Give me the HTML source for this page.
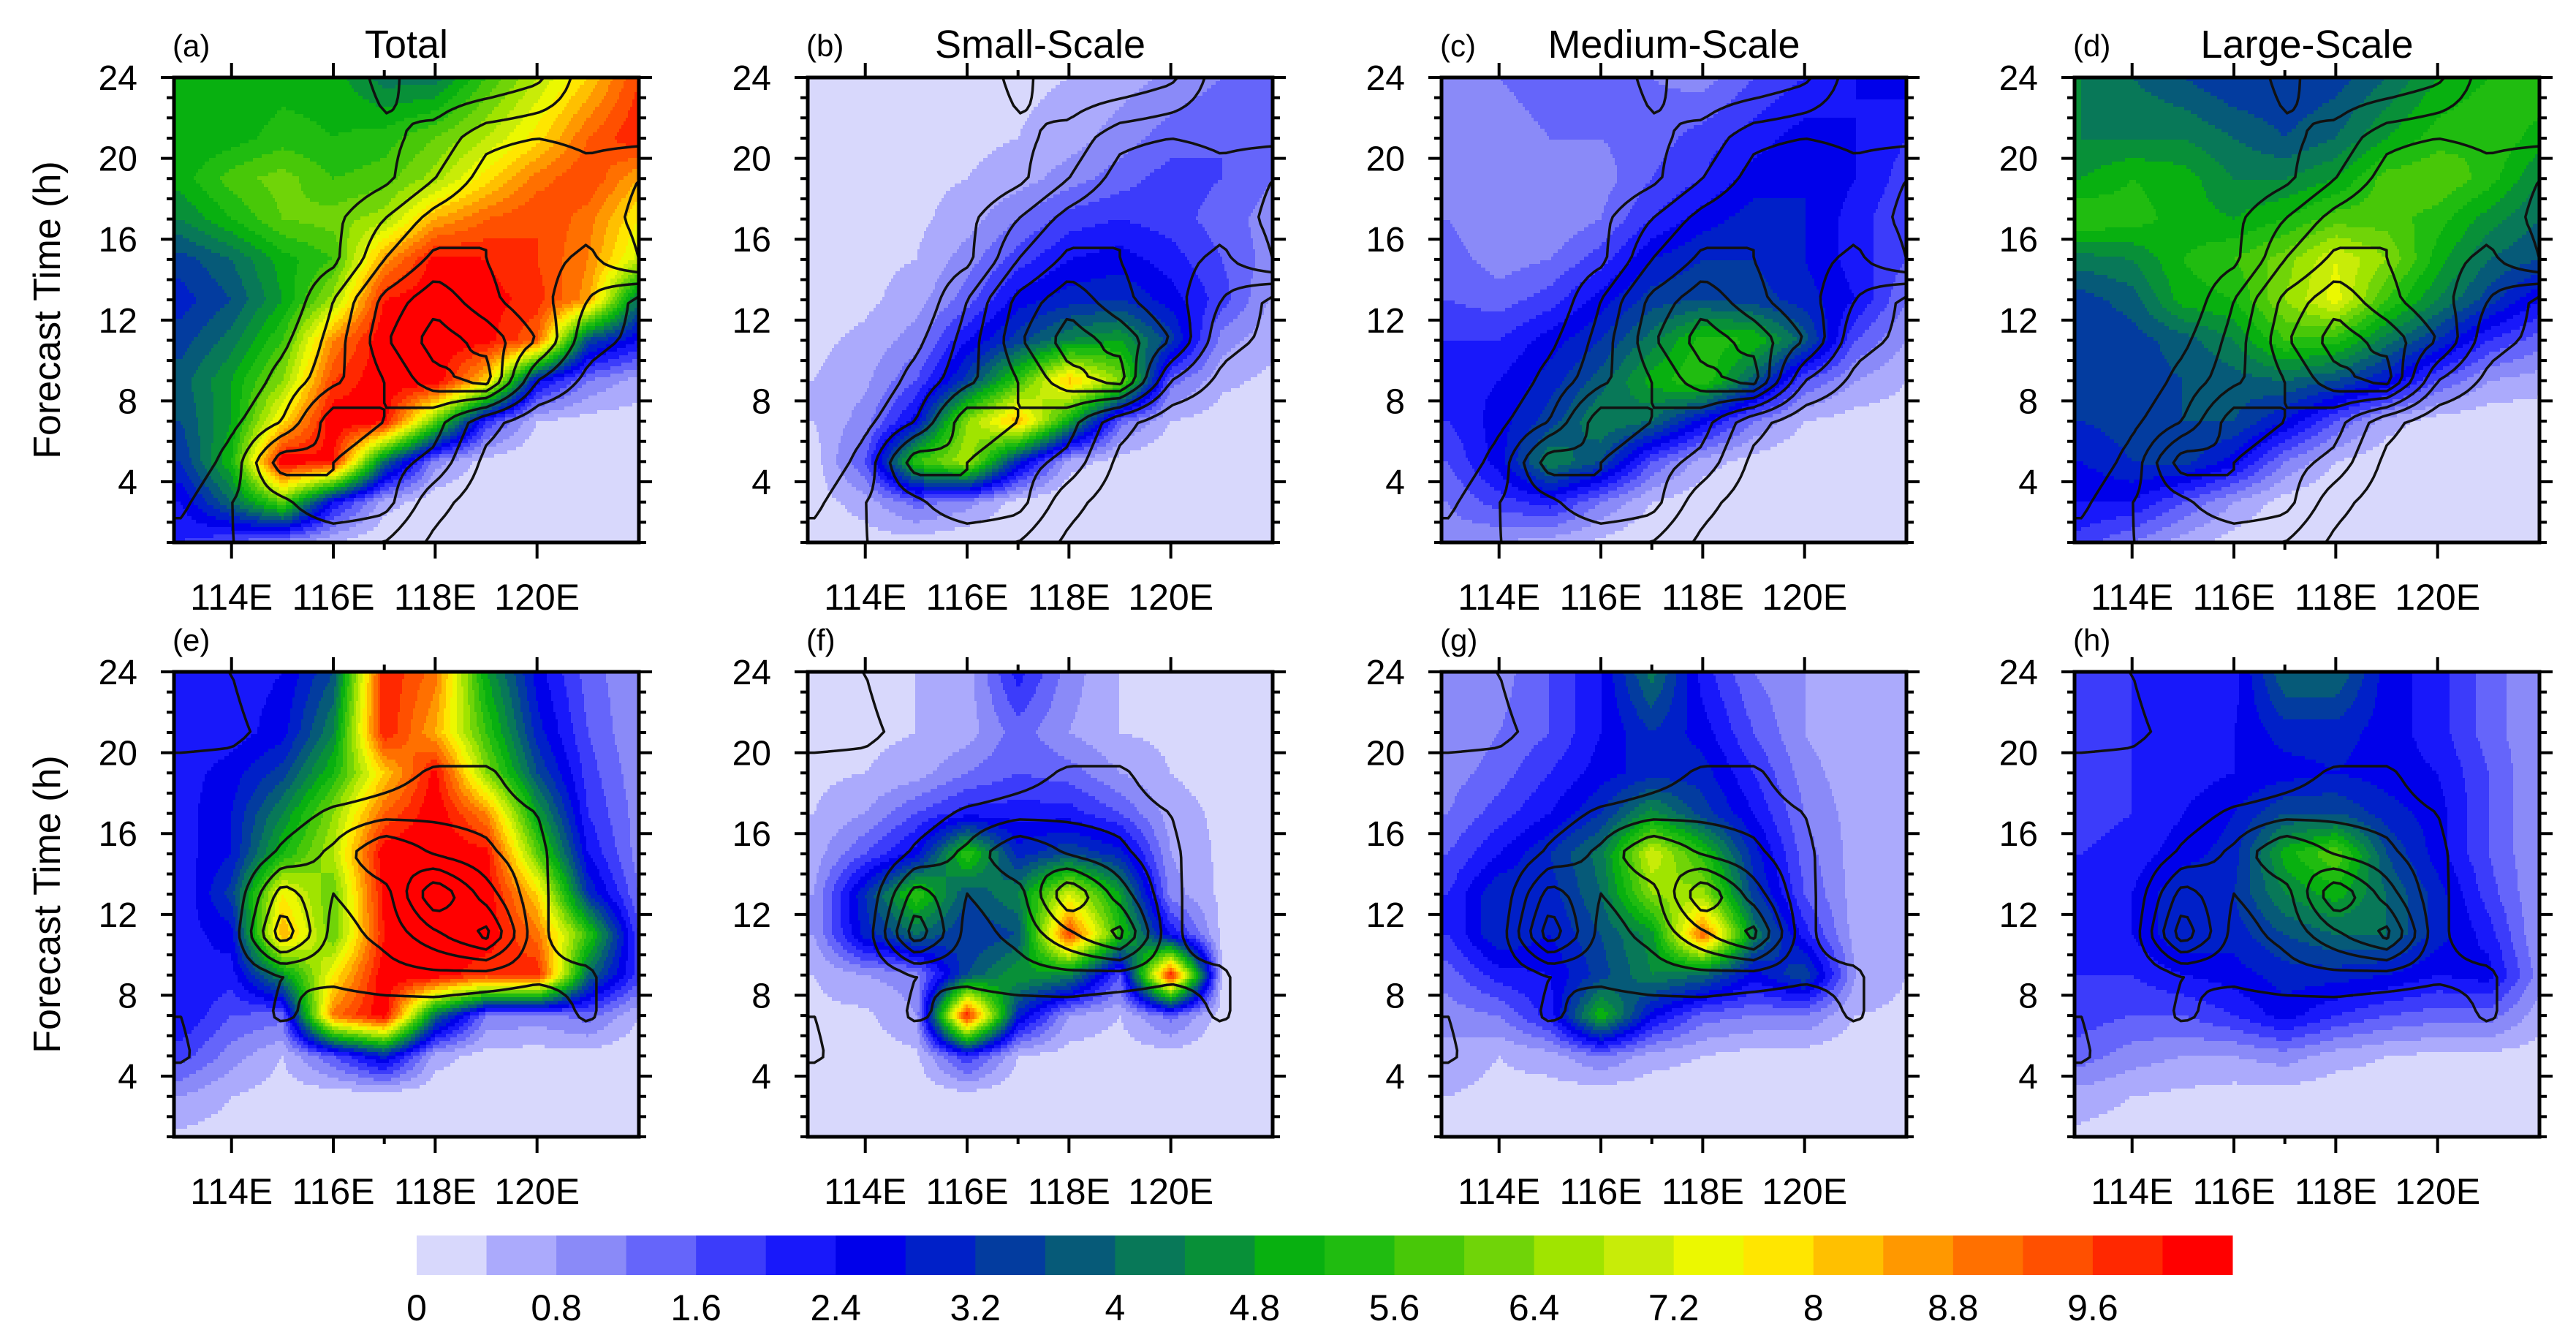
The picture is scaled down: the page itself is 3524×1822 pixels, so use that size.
<!DOCTYPE html>
<html><head><meta charset="utf-8">
<style>
html,body{margin:0;padding:0;background:#fff;}
svg{display:block;font-family:"Liberation Sans",Arial,sans-serif;}
</style></head>
<body>
<svg id="fig" xmlns="http://www.w3.org/2000/svg" width="3524" height="1822" viewBox="0 0 3524 1822">
<rect x="0" y="0" width="3524" height="1822" fill="#fff"/>
</svg>
<script>
// ---- data ----
const lons=[113,114,115,116,117,118,119,120,121,122];
const times=[24,21,19,17,15,13,11,9,7,5,3,1];
const levelStep=0.4;
const colorbarLabels=["0","0.8","1.6","2.4","3.2","4","4.8","5.6","6.4","7.2","8","8.8","9.6"];
const xTickLabels=["114E","116E","118E","120E"];
const xTickValues=[114,116,118,120];
const yTickValues=[4,8,12,16,20,24];
const palette=["#d8d8fc","#abaafc","#8a8af8","#6565fa","#3c3cfa","#1818fa","#0000ea","#0020c8","#033c9f","#065a78","#087858","#089038","#08b010","#20bc10","#48c808","#70d408","#a0e400","#c8ec08","#ecf800","#ffe600","#ffc000","#ff9800","#ff7000","#ff5000","#ff2800","#ff0000"];

const fieldA=[
[5.0,4.8,5.0,5.0,4.2,4.2,5.6,6.8,8,9.6],
[4.8,5.0,5.4,5.2,5.4,6.0,6.8,7.8,9.2,10],
[5.0,5.8,6.2,5.6,5.8,6.6,7.8,9.0,9.6,8.4],
[4.4,5.2,6.0,6.2,6.6,8.4,9.2,9.6,9.0,7.6],
[3.4,4.0,5.0,5.6,8.6,10.2,10,9.6,8.8,7],
[3.0,3.6,4.8,6.6,10,10.4,10.2,9.8,8.6,4],
[3.4,4.2,5.6,8.8,10.4,10.4,10.2,9.2,3.5,2.4],
[3.8,4.8,6.4,9.6,10.4,10.4,8,2.6,1.2,0.6],
[3.6,4.8,7.8,10.4,10.2,6,2,0.4,0.2,0.2],
[3.2,5.2,10.4,10,4,1,0.2,0,0,0],
[2.4,4.0,6,2.4,0.6,0.1,0,0,0,0],
[2.0,1.6,1.0,0.4,0,0,0,0,0,0]];
const fieldB=[
[0.2,0.2,0.2,0.3,0.3,0.4,0.6,0.9,1.2,1.4],
[0.2,0.2,0.2,0.3,0.4,0.6,1.0,1.4,1.6,1.4],
[0.2,0.2,0.3,0.4,0.6,1.0,1.4,1.8,1.6,1.2],
[0.2,0.2,0.3,0.6,1.2,1.8,2.0,1.8,1.4,1.0],
[0.2,0.3,0.4,1.0,1.8,2.4,2.6,2.2,1.6,1.0],
[0.2,0.3,0.6,1.4,2.6,3.0,3.2,2.6,1.8,0.7],
[0.3,0.5,1.0,2.4,3.4,4.4,4.8,3.4,1.0,0.5],
[0.4,0.7,1.6,3.4,5.6,8.2,6.4,1.4,0.5,0.3],
[0.4,1.0,2.6,6.4,8.4,5.0,1.4,0.4,0.2,0.2],
[0.2,1.6,5.6,6.8,3.0,0.6,0.2,0,0,0],
[0.2,0.6,1.4,1.0,0.2,0,0,0,0,0],
[0.1,0.2,0.2,0,0,0,0,0,0,0]];
const fieldC=[
[1.0,1.2,1.4,1.6,1.2,1.0,1.6,2.0,2.4,2.6],
[0.8,1.0,1.2,1.2,1.4,1.8,2.2,2.6,2.4,2.0],
[1.0,1.2,0.8,1.0,1.6,2.0,2.6,2.8,2.4,1.8],
[1.2,0.8,0.8,1.2,2.0,2.6,3.0,2.8,2.2,1.6],
[1.4,1.0,1.2,1.8,2.8,3.2,3.2,2.8,2.2,1.6],
[1.6,1.4,1.8,2.6,3.4,3.6,3.4,3.0,2.4,1.2],
[2.0,2.0,2.6,3.2,4.2,5.4,5.2,3.8,1.6,0.8],
[2.2,2.4,3.0,3.8,5.0,5.6,3.8,1.6,0.8,0.4],
[2.0,2.6,3.4,4.4,4.0,2.6,1.2,0.4,0.2,0.2],
[1.6,2.6,4.4,3.6,1.6,0.6,0.2,0,0,0],
[1.2,1.8,2.2,1.2,0.4,0.1,0,0,0,0],
[1.0,0.8,0.6,0.3,0,0,0,0,0,0]];
const fieldD=[
[4.4,4.0,3.6,3.2,3.2,3.4,4.0,4.8,5.2,5.6],
[4.4,4.4,4.4,4.0,3.6,4.0,4.8,5.4,5.6,5.0],
[4.8,5.2,5.0,4.4,4.4,4.8,5.8,6.0,5.4,4.4],
[5.6,5.4,5.0,4.8,5.2,5.8,5.8,5.4,4.6,4.0],
[4.2,4.4,5.2,5.6,6.2,7.2,6.4,5.0,4.0,3.6],
[3.4,3.8,5.0,5.2,6.4,7.4,5.6,4.4,3.4,2.4],
[3.2,3.4,3.8,4.4,5.6,5.4,4.2,3.2,2.0,1.4],
[3.2,3.4,3.6,3.8,4.0,3.6,2.8,1.6,0.8,0.6],
[3.2,3.4,3.6,3.6,2.8,1.6,0.6,0.2,0.1,0.1],
[2.8,3.2,3.4,2.6,1.2,0.4,0.1,0,0,0],
[2.4,2.4,1.6,0.8,0.2,0,0,0,0,0],
[1.8,1.2,0.6,0.2,0,0,0,0,0,0]];
const fieldE=[
[2.2,2.2,2.4,3.6,10,9,4.8,2.6,1.4,0.8],
[2.0,2.2,2.6,4.4,10,8.4,5.6,3.0,1.6,0.8],
[2.2,2.6,3.4,5.2,8.0,10.2,6.4,3.6,1.8,0.9],
[2.2,2.8,4.4,6.4,9.2,10.4,8.8,4.8,2.0,1.0],
[2.2,2.8,5.2,6.8,10.4,10.4,10.2,6.0,2.4,1.0],
[2.0,3.4,7.6,6.0,10.2,10.4,10.4,8.0,3.2,1.2],
[2.2,2.6,8.4,6.0,10,10.4,10.4,9.0,5.6,1.6],
[2.4,2.2,4.6,7.6,10.4,10.4,9.6,10,4,1.8],
[2.4,1.6,1.4,9,10.4,4,1.2,1,1.4,0.4],
[1.8,1.0,0.4,1.6,3,0.6,0.2,0.2,0.2,0.1],
[0.8,0.4,0.2,0.1,0.1,0.1,0.1,0,0,0],
[0.3,0.2,0.1,0,0,0,0,0,0,0]];
const fieldF=[
[0.4,0.4,0.4,0.6,2.2,1.0,0.4,0.3,0.2,0.2],
[0.3,0.3,0.4,0.6,1.4,0.8,0.4,0.3,0.2,0.2],
[0.3,0.4,0.6,1.2,1.6,1.4,0.8,0.4,0.2,0.2],
[0.4,0.8,1.6,2.2,2.2,2.2,1.6,0.6,0.3,0.2],
[0.6,1.6,2.6,5.6,3.0,3.6,3.0,0.8,0.3,0.2],
[0.8,3.2,5.6,3.6,4.4,7.2,4.8,1.0,0.3,0.2],
[0.8,3.0,4.0,3.2,3.6,9.6,5.4,2.4,0.3,0.2],
[0.4,0.8,1.0,3.6,4.8,4.4,1.6,10,0.4,0.2],
[0.3,0.3,0.8,10,3.0,0.8,0.4,1.4,0.2,0.1],
[0.2,0.2,0.3,2.0,0.4,0.2,0.2,0.2,0.1,0.1],
[0.1,0.1,0.1,0.2,0.1,0.1,0.1,0,0,0],
[0.1,0.1,0.1,0,0,0,0,0,0,0]];
const fieldG=[
[0.8,1.0,1.6,2.4,4.2,2.2,1.2,0.8,0.4,0.4],
[0.8,1.2,1.6,2.4,3.2,2.6,1.6,0.8,0.4,0.4],
[1.0,1.4,2.0,2.6,3.0,3.0,2.0,1.0,0.5,0.4],
[1.2,1.8,2.4,3.2,4.6,3.4,2.4,1.2,0.6,0.4],
[1.6,2.4,3.2,4.2,7.2,5.4,3.0,1.4,0.6,0.4],
[2.0,3.2,3.0,4.0,6.4,6.6,3.4,1.6,0.6,0.4],
[2.0,3.2,2.8,3.6,4.6,9.2,4.4,2.2,0.6,0.4],
[1.4,2.2,2.4,3.4,4.4,4.0,2.6,3.6,0.8,0.4],
[1.0,1.2,2.2,5.2,2.6,1.4,1.2,1.2,0.4,0.3],
[0.6,0.4,0.6,1.2,0.6,0.4,0.2,0.2,0.1,0.1],
[0.4,0.3,0.2,0.1,0.1,0.1,0.1,0,0,0],
[0.2,0.2,0.1,0,0,0,0,0,0,0]];
const fieldH=[
[1.8,2.0,2.0,2.2,4.0,4.0,2.6,2.2,1.4,0.8],
[1.6,2.0,2.2,2.4,3.0,3.0,2.6,2.2,1.4,0.8],
[1.8,2.0,2.2,2.4,2.6,2.8,2.6,2.4,1.6,0.8],
[1.8,2.0,2.4,2.8,3.6,3.6,3.0,2.6,1.6,0.8],
[2.0,2.2,2.6,3.0,5.0,6.0,3.6,2.6,1.6,0.8],
[2.0,2.4,3.2,3.2,4.4,5.0,4.0,3.0,1.8,0.8],
[2.0,2.4,3.2,3.0,3.6,4.0,4.0,3.0,2.2,0.8],
[2.0,2.0,2.4,2.6,3.0,3.0,2.8,2.4,2.6,1.0],
[1.8,1.6,1.6,2.0,2.6,2.0,1.6,1.4,1.4,0.6],
[1.4,1.0,0.8,0.8,1.0,0.6,0.4,0.3,0.3,0.2],
[0.6,0.4,0.3,0.2,0.2,0.1,0.1,0,0,0],
[0.3,0.2,0.1,0,0,0,0,0,0,0]];
const obsTop=[
[0,0,0,0,1,0,0,0.5,2,2],
[0,0,0,0,0.5,1,2,2.2,2,2],
[0,0,0,0,0.5,1.5,2.5,3,2.5,3],
[0,0,0,0.5,1.5,2.5,3,3,2.5,3.2],
[0,0,0,0.5,2.2,3.2,3,2.5,2,3],
[0,0,0,1.5,3.2,4,3.2,2.5,1.5,0.5],
[0,0,0.5,1.8,3.5,4.5,4,3,1,0.5],
[0,0,1,2,3,4,4.5,1.5,0.5,0],
[0,0.5,1.5,3.5,3,2.5,1,0.2,0,0],
[0,1,3.5,3,2.5,2,0.5,0,0,0],
[0.5,1.5,2,3,2.5,1,0.2,0,0,0],
[1,1.5,1.5,1.5,1.5,0.5,0,0,0,0]];
const obsBottom=[
[1.2,1,0,0,0,0,0,0,0,0],
[1.5,1.3,0.5,0,0,0,0,0,0,0],
[0.5,0.5,0,0,0.5,1.2,1.2,0.3,0,0],
[0,0,0.5,1.2,1.5,1.6,1.5,1,0.2,0],
[0,0,1.2,2,3.5,2.5,2,1.2,0.2,0],
[0,0.3,3,1.8,2.2,5,3,1.2,0.3,0],
[0,0.5,4,1.5,2,3.2,4.5,1.2,0.3,0],
[0,0.3,1,1.2,1.5,1.6,1.5,1.2,1.2,0],
[1,0.2,1.2,0.5,0.5,0.5,0.3,0.3,1.2,0],
[1.2,0.2,0,0,0,0,0,0,0,0],
[0,0,0,0,0,0,0,0,0,0],
[0,0,0,0,0,0,0,0,0,0]];
const obsTopLevels=[0.7,1.5,2.2,3,3.6,4.2];
const obsBottomLevels=[1,1.8,2.6,3.4,4.2];

// ---- layout ----
const NS="http://www.w3.org/2000/svg";
const svg=document.getElementById('fig');
const PW=636,PH=636;
const LON0=112.87,LON1=122.0,T0=1,T1=24;
const panels=[
 {x:238,y:106,f:fieldA,o:obsTop,lv:obsTopLevels,lab:"(a)",title:"Total",ytitle:true,id:"a"},
 {x:1105,y:106,f:fieldB,o:obsTop,lv:obsTopLevels,lab:"(b)",title:"Small-Scale",id:"b"},
 {x:1972,y:106,f:fieldC,o:obsTop,lv:obsTopLevels,lab:"(c)",title:"Medium-Scale",id:"c"},
 {x:2838,y:106,f:fieldD,o:obsTop,lv:obsTopLevels,lab:"(d)",title:"Large-Scale",id:"d"},
 {x:238,y:919,f:fieldE,o:obsBottom,lv:obsBottomLevels,lab:"(e)",title:"",ytitle:true,id:"e"},
 {x:1105,y:919,f:fieldF,o:obsBottom,lv:obsBottomLevels,lab:"(f)",title:"",id:"f"},
 {x:1972,y:919,f:fieldG,o:obsBottom,lv:obsBottomLevels,lab:"(g)",title:"",id:"g"},
 {x:2838,y:919,f:fieldH,o:obsBottom,lv:obsBottomLevels,lab:"(h)",title:"",id:"h"}];

function mk(tag,attrs,parent){const e=document.createElementNS(NS,tag);for(const k in attrs)e.setAttribute(k,attrs[k]);(parent||svg).appendChild(e);return e;}
function sample(grid,lon,t){
  let L=Math.max(lons[0],Math.min(lons[lons.length-1],lon));
  let i=0;while(i<lons.length-2&&L>lons[i+1])i++;
  const fx=(L-lons[i])/(lons[i+1]-lons[i]);
  let T=Math.max(times[times.length-1],Math.min(times[0],t));
  let j=0;while(j<times.length-2&&T<times[j+1])j++;
  const fy=(times[j]-T)/(times[j]-times[j+1]);
  const a=grid[j][i],b=grid[j][i+1],c=grid[j+1][i],d=grid[j+1][i+1];
  return (a*(1-fx)+b*fx)*(1-fy)+(c*(1-fx)+d*fx)*fy;
}
function levelOf(v){return Math.max(0,Math.min(palette.length-1,Math.floor(v/levelStep)));}

panels.forEach(p=>{
  const xs=lon=>p.x+(lon-LON0)/(LON1-LON0)*PW;
  const ys=t=>p.y+(T1-t)/(T1-T0)*PH;
  const g=mk('g',{},svg);
  
  
  const cp=mk('clipPath',{id:'clip-'+p.id},g);
  mk('rect',{x:p.x,y:p.y,width:PW,height:PH},cp);
  const fg=mk('g',{'clip-path':'url(#clip-'+p.id+')'},g);
  
  
  const cw=3,ch=5;
  for(let yy=0;yy<PH;yy+=ch){
    const t=T1-(yy+ch/2)/PH*(T1-T0);
    let runStart=0,runLev=-1;
    for(let xx=0;xx<=PW;xx+=cw){
      let lev=-2;
      if(xx<PW){const lon=LON0+(xx+cw/2)/PW*(LON1-LON0);lev=levelOf(sample(p.f,lon,t));}
      if(lev!==runLev){
        if(runLev>=0){
          const r=mk('rect',{x:p.x+runStart,y:p.y+yy,width:xx-runStart+0.6,height:ch+0.6,fill:palette[runLev]},fg);
          
          
        }
        runStart=xx;runLev=lev;
      }
    }
  }
  const N=70,M=70;
  const vals=[];
  for(let r=0;r<=M;r++){vals.push([]);for(let c=0;c<=N;c++){
    vals[r].push(sample(p.o,LON0+c/N*(LON1-LON0),T1-r/M*(T1-T0)));}}
  let d="";
  p.lv.forEach(L=>{
    for(let r=0;r<M;r++)for(let c=0;c<N;c++){
      const v0=vals[r][c],v1=vals[r][c+1],v2=vals[r+1][c+1],v3=vals[r+1][c];
      const X=cc=>p.x+cc/N*PW, Y=rr=>p.y+rr/M*PH;
      const pts=[];
      if((v0>=L)!==(v1>=L)){const f=(L-v0)/(v1-v0);pts.push([X(c+f),Y(r)]);}
      if((v1>=L)!==(v2>=L)){const f=(L-v1)/(v2-v1);pts.push([X(c+1),Y(r+f)]);}
      if((v3>=L)!==(v2>=L)){const f=(L-v3)/(v2-v3);pts.push([X(c+f),Y(r+1)]);}
      if((v0>=L)!==(v3>=L)){const f=(L-v0)/(v3-v0);pts.push([X(c),Y(r+f)]);}
      for(let k=0;k+1<pts.length;k+=2)d+="M"+pts[k][0].toFixed(1)+" "+pts[k][1].toFixed(1)+"L"+pts[k+1][0].toFixed(1)+" "+pts[k+1][1].toFixed(1);
    }
  });
  const cl=mk('path',{d:d,fill:'none',stroke:'#111',"stroke-width":3.5,"stroke-linecap":"round"},fg);
  
  
  const fr=mk('rect',{x:p.x,y:p.y,width:PW,height:PH,fill:'none',stroke:'#000',"stroke-width":5},g);
  
  
  let td="";
  for(let t=1;t<=24;t++){
    const y=ys(t);const len=(t%4===0)?18:10;
    td+="M"+(p.x-len)+" "+y+"H"+p.x+"M"+(p.x+PW)+" "+y+"H"+(p.x+PW+len);
  }
  xTickValues.forEach(v=>{const x=xs(v);td+="M"+x+" "+(p.y-20)+"V"+p.y+"M"+x+" "+(p.y+PH)+"V"+(p.y+PH+22);});
  [117].forEach(v=>{const x=xs(v);td+="M"+x+" "+(p.y-10)+"V"+p.y+"M"+x+" "+(p.y+PH)+"V"+(p.y+PH+10);});
  const tk=mk('path',{d:td,stroke:'#000',"stroke-width":4,fill:'none'},g);
  
  
  yTickValues.forEach(v=>{
    const tx=mk('text',{x:p.x-50,y:ys(v)+17,"font-size":48,"text-anchor":"end",fill:'#000'},g);
    tx.textContent=String(v);
    
    
  });
  xTickValues.forEach((v,i)=>{
    const tx=mk('text',{x:xs(v),y:p.y+PH+92,"font-size":50,"text-anchor":"middle",fill:'#000'},g);
    tx.textContent=xTickLabels[i];
    
    
  });
  const lb=mk('text',{x:p.x-2,y:p.y-29,"font-size":42,fill:'#000'},g);
  lb.textContent=p.lab;
  
  
  if(p.title){
    const tt=mk('text',{x:p.x+PW/2,y:p.y-27,"font-size":54,"text-anchor":"middle",fill:'#000'},g);
    tt.textContent=p.title;
    
    
  }
  if(p.ytitle){
    const cy=p.y+PH/2;
    const yt=mk('text',{x:0,y:0,transform:"translate(82,"+cy+") rotate(-90)","font-size":52,"text-anchor":"middle",fill:'#000'},g);
    yt.textContent="Forecast Time (h)";
    
    
  }
});

const cb=mk('g',{},svg);


const CBX=570,CBW=2484,CBY=1690,CBH=54;
const bw=CBW/palette.length;
palette.forEach((c,i)=>{
  const r=mk('rect',{x:CBX+i*bw,y:CBY,width:bw+0.5,height:CBH,fill:c},cb);
  
  
});
colorbarLabels.forEach((s,i)=>{
  const t=mk('text',{x:CBX+i*2*bw,y:1806,"font-size":50,"text-anchor":"middle",fill:'#000'},cb);
  t.textContent=s;
  
  
});
</script>
</body></html>
